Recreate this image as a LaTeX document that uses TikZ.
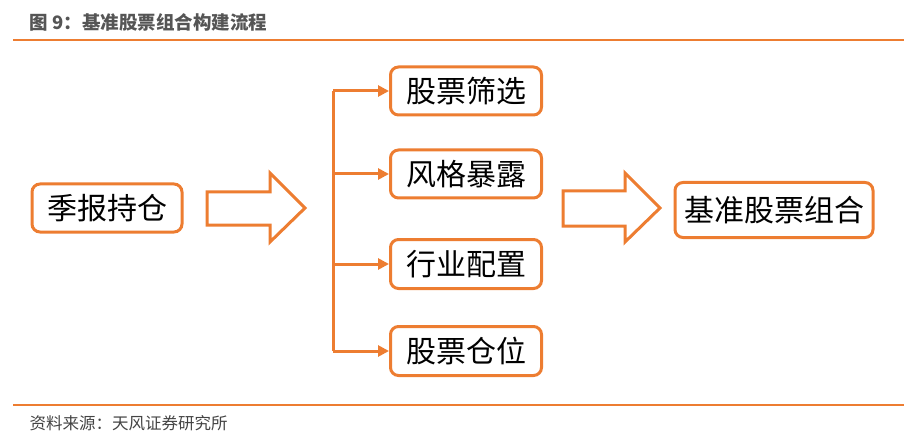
\documentclass[tikz,border=0pt]{standalone}
\usepackage{fontspec}
\setmainfont{Noto Sans CJK SC}
\usetikzlibrary{arrows.meta}
\definecolor{org}{HTML}{ED7D31}
\definecolor{ttl}{HTML}{555555}
\begin{document}
\begin{tikzpicture}[x=1pt,y=-1pt,
  box/.style={draw=org,line width=3pt,rounded corners=8pt,fill=white,inner sep=0pt,
    font=\fontsize{30}{30}\selectfont,text=black},
  conn/.style={draw=org,line width=3pt,-{Triangle[length=11pt,width=11pt]}},
  blockarr/.style={draw=org,line width=3pt,fill=white,line join=miter},
  rule/.style={draw=org,line width=2.5pt}]
\useasboundingbox (0,0) rectangle (919,441);
\node[anchor=west,text=ttl,font=\fontsize{18.5}{18.5}\selectfont\bfseries] (title) at (26,22) {图 9：基准股票组合构建流程};
\draw[rule] (13,40) -- (904,40);
\draw[rule] (13,405) -- (904,405);
\node[anchor=west,text=ttl!80!black,font=\fontsize{16.5}{16.5}\selectfont] (src) at (26,423) {资料来源：天风证券研究所};

\node[box,minimum width=150pt,minimum height=48pt] (a) at (107,208) {季报持仓};
\node[box,minimum width=151pt,minimum height=48pt] (b1) at (466,91) {股票筛选};
\node[box,minimum width=151pt,minimum height=48pt] (b2) at (466,174) {风格暴露};
\node[box,minimum width=151pt,minimum height=49pt] (b3) at (466,264) {行业配置};
\node[box,minimum width=151pt,minimum height=49pt] (b4) at (466,351) {股票仓位};
\node[box,minimum width=198pt,minimum height=55pt] (c) at (774,210) {基准股票组合};

\draw[blockarr] (207,192) -- (270,192) -- (270,173) -- (305,208) -- (270,242) -- (270,225) -- (207,225) -- cycle;
\draw[blockarr] (563,191) -- (625,191) -- (625,173) -- (660,208) -- (625,242) -- (625,226) -- (563,226) -- cycle;

\coordinate (top) at (333,91);
\coordinate (bot) at (333,351);
\coordinate (j2) at (top |- b2.west);
\coordinate (j3) at (top |- b3.west);
\draw[org,line width=3pt] (top) -- (bot);
\draw[conn] (top) -- (b1.west);
\draw[conn] (j2) -- (b2.west);
\draw[conn] (j3) -- (b3.west);
\draw[conn] (bot) -- (b4.west);
\end{tikzpicture}
\end{document}
